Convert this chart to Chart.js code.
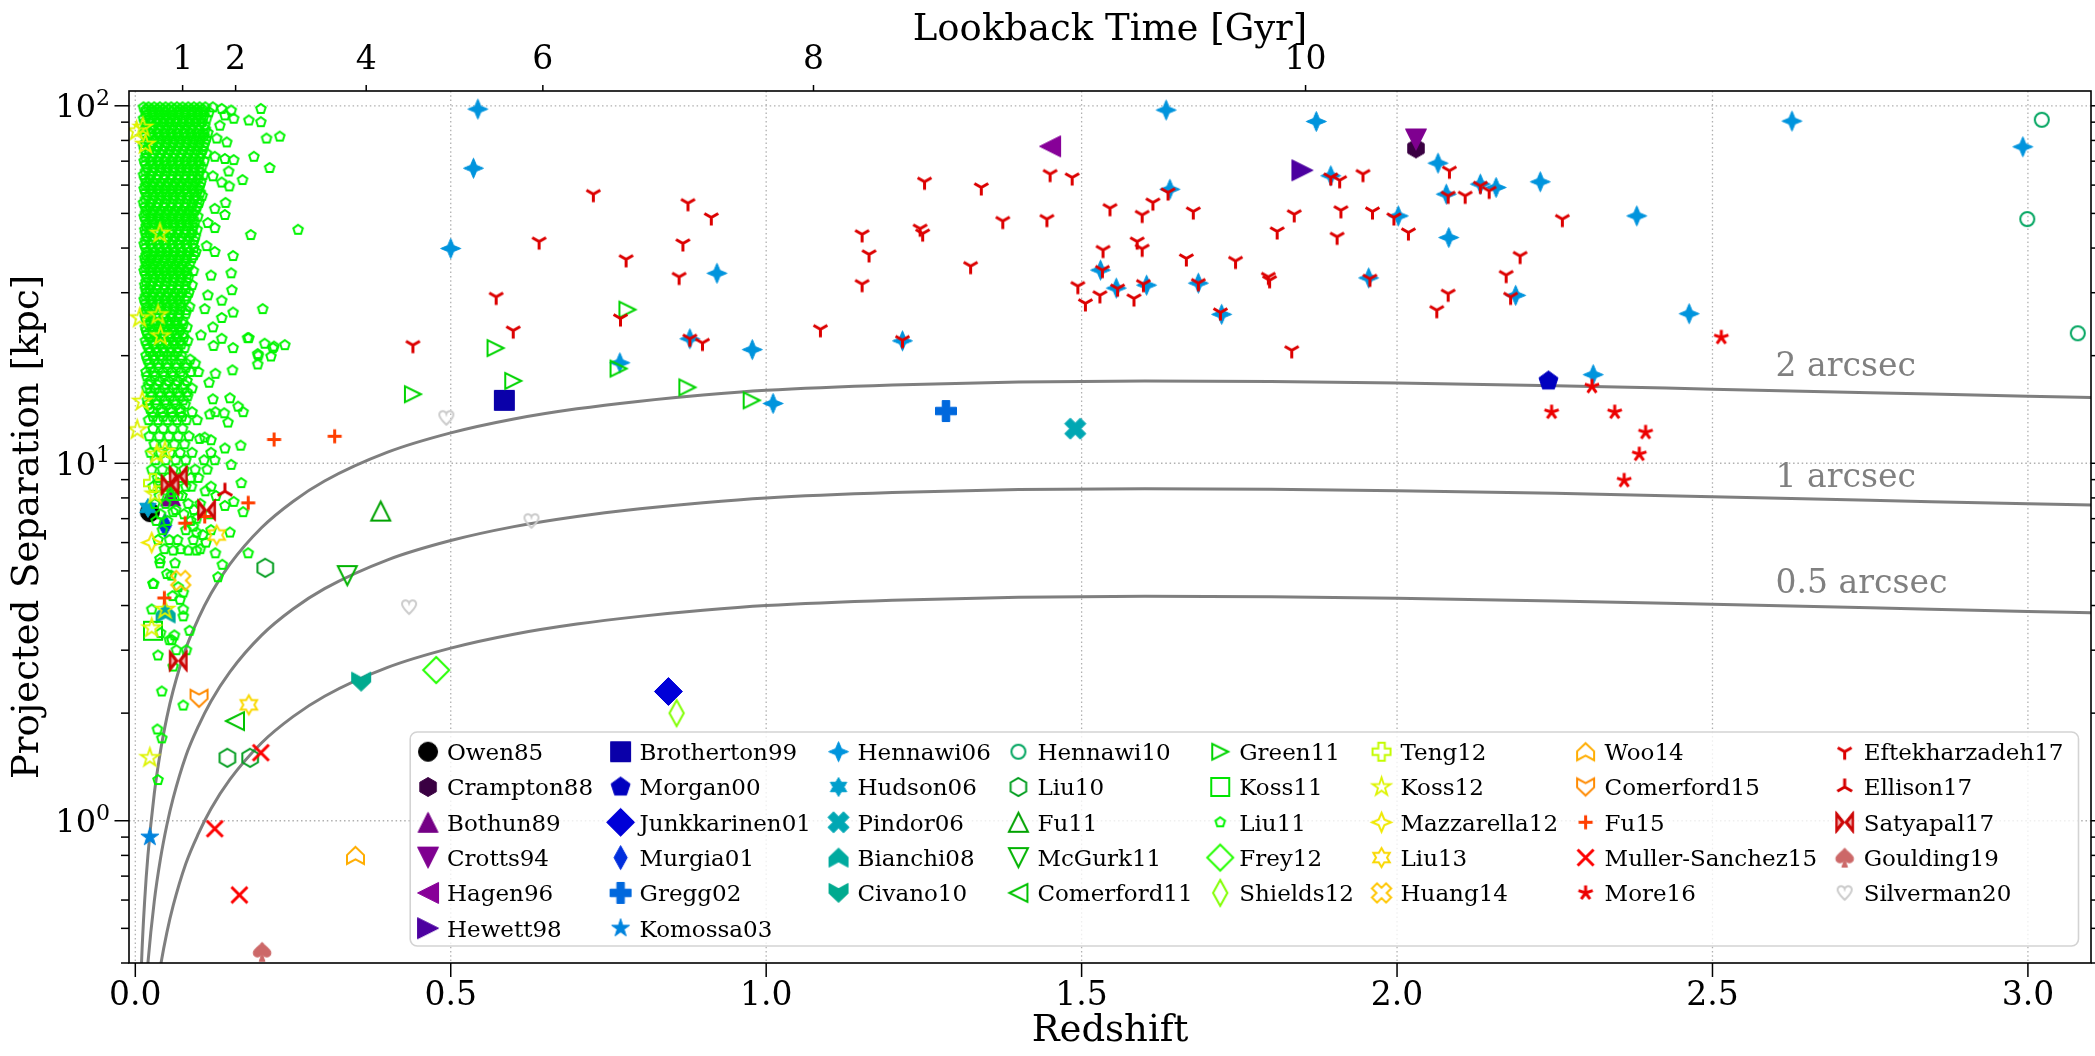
<!DOCTYPE html>
<html>
<head>
<meta charset="utf-8">
<title>Projected separation vs redshift</title>
<script src="https://cdn.jsdelivr.net/npm/chart.js@4.4.1/dist/chart.umd.min.js"></script>
<style>
html,body{margin:0;padding:0;background:#ffffff;overflow:hidden;}
#wrap{width:2095px;height:1056px;}
canvas{display:block;}
</style>
</head>
<body>
<div id="wrap"><canvas id="chart" width="2095" height="1056"></canvas></div>
<script>
// ===================== DATA (redshift, projected separation in kpc) =====================
const seriesNames = ['Owen85','Crampton88','Bothun89','Crotts94','Hagen96','Hewett98','Brotherton99','Morgan00','Junkkarinen01','Murgia01','Gregg02','Komossa03','Hennawi06','Hudson06','Pindor06','Bianchi08','Civano10','Hennawi10','Liu10','Fu11','McGurk11','Comerford11','Green11','Koss11','Liu11','Frey12','Shields12','Teng12','Koss12','Mazzarella12','Liu13','Huang14','Woo14','Comerford15','Fu15','Muller-Sanchez15','More16','Eftekharzadeh17','Ellison17','Satyapal17','Goulding19','Silverman20'];

const owen85 = [[0.023, 7.3]];
const crampton88 = [[2.03, 76]];
const bothun89 = [[0.056, 8.1]];
const crotts94 = [[2.03, 80.5]];
const hagen96 = [[1.45, 77]];
const hewett98 = [[1.85, 66]];
const brotherton99 = [[0.585, 15.0]];
const morgan00 = [[2.24, 17.0]];
const junkkarinen01 = [[0.845, 2.3]];
const murgia01 = [[0.047, 6.7]];
const gregg02 = [[1.285, 14.0]];
const komossa03 = [[0.023, 0.9]];
const hennawi06 = [[0.543,97.9],[0.536,66.9],[0.500,39.9],[0.768,19.1],[0.879,22.3],[0.922,34.0],[0.978,20.8],[1.011,14.7],[1.216,22.0],[1.634,97.3],[1.640,58.4],[1.530,34.7],[1.555,30.9],[1.603,31.5],[1.685,31.9],[1.722,26.1],[1.872,90.4],[1.895,63.7],[1.955,33.0],[2.002,49.2],[2.065,69.1],[2.078,56.6],[2.132,60.4],[2.157,59.1],[2.082,42.8],[2.188,29.5],[2.227,61.3],[2.380,49.2],[2.463,26.2],[2.311,17.7],[2.626,90.6],[2.992,76.8]];
const hudson06 = [[0.020, 7.5]];
const pindor06 = [[1.49, 12.5]];
const bianchi08 = [[0.048, 3.8]];
const civano10 = [[0.358, 2.45]];
const hennawi10 = [[3.022,91.4],[2.999,48.2],[3.079,23.1]];
const liu10 = [[0.206,5.1],[0.146,1.5],[0.182,1.5]];
const fu11 = [[0.389, 7.35]];
const mcgurk11 = [[0.336, 4.85]];
const comerford11 = [[0.158, 1.9]];
const green11 = [[0.780,26.9],[0.571,21.0],[0.599,17.0],[0.440,15.6],[0.766,18.4],[0.875,16.3],[0.977,15.0]];
const koss11 = [[0.028, 3.4]];
const liu11 = [
[0.013,99],[0.021,99],[0.030,99],[0.039,99],[0.048,99],[0.057,99],[0.066,99],[0.075,99],[0.084,99],[0.093,99],[0.102,99],[0.111,99],
[0.017,97.5],[0.026,97.5],[0.035,97.5],[0.044,97.5],[0.053,97.5],[0.062,97.5],[0.071,97.5],[0.080,97.5],[0.089,97.5],[0.098,97.5],[0.107,97.5],
[0.016,96],[0.027,96],[0.037,96],[0.046,96],[0.058,96],[0.069,96],[0.079,96],[0.090,96],[0.099,96],[0.108,96],[0.117,96],
[0.018,94],[0.029,94],[0.039,94],[0.049,94],[0.058,94],[0.068,94],[0.079,94],[0.089,94],[0.099,94],[0.109,94],
[0.013,92],[0.023,92],[0.034,92],[0.044,92],[0.053,92],[0.063,92],[0.074,92],[0.085,92],[0.094,92],[0.104,92],[0.113,92],
[0.015,90],[0.025,90],[0.035,90],[0.045,90],[0.055,90],[0.066,90],[0.076,90],[0.086,90],[0.096,90],[0.106,90],
[0.018,88],[0.029,88],[0.040,88],[0.050,88],[0.060,88],[0.071,88],[0.081,88],[0.091,88],[0.101,88],[0.110,88],
[0.016,86],[0.026,86],[0.037,86],[0.048,86],[0.058,86],[0.068,86],[0.079,86],[0.089,86],[0.100,86],[0.111,86],
[0.014,84],[0.024,84],[0.035,84],[0.046,84],[0.056,84],[0.066,84],[0.077,84],[0.087,84],[0.097,84],[0.107,84],[0.115,84],
[0.016,82.2],[0.027,82.2],[0.038,82.2],[0.048,82.2],[0.059,82.2],[0.069,82.2],[0.080,82.2],[0.090,82.2],[0.100,82.2],[0.109,82.2],
[0.019,80.5],[0.030,80.5],[0.041,80.5],[0.051,80.5],[0.062,80.5],[0.072,80.5],[0.083,80.5],[0.093,80.5],[0.103,80.5],[0.112,80.5],
[0.016,78.7],[0.027,78.7],[0.038,78.7],[0.049,78.7],[0.060,78.7],[0.070,78.7],[0.081,78.7],[0.091,78.7],[0.101,78.7],[0.110,78.7],
[0.013,77],[0.025,77],[0.036,77],[0.047,77],[0.057,77],[0.068,77],[0.078,77],[0.089,77],[0.099,77],[0.108,77],
[0.015,75.2],[0.022,75.2],[0.033,75.2],[0.044,75.2],[0.055,75.2],[0.065,75.2],[0.076,75.2],[0.087,75.2],[0.097,75.2],[0.107,75.2],
[0.017,73.5],[0.029,73.5],[0.040,73.5],[0.052,73.5],[0.062,73.5],[0.073,73.5],[0.084,73.5],[0.094,73.5],[0.104,73.5],[0.113,73.5],
[0.016,71.7],[0.027,71.7],[0.038,71.7],[0.049,71.7],[0.060,71.7],[0.071,71.7],[0.082,71.7],[0.092,71.7],[0.102,71.7],
[0.014,70],[0.024,70],[0.035,70],[0.046,70],[0.057,70],[0.068,70],[0.079,70],[0.089,70],[0.100,70],[0.109,70],
[0.016,68.5],[0.027,68.5],[0.038,68.5],[0.049,68.5],[0.059,68.5],[0.070,68.5],[0.081,68.5],[0.091,68.5],[0.102,68.5],
[0.019,67],[0.030,67],[0.041,67],[0.051,67],[0.062,67],[0.073,67],[0.083,67],[0.094,67],[0.105,67],
[0.016,65.5],[0.027,65.5],[0.039,65.5],[0.049,65.5],[0.060,65.5],[0.071,65.5],[0.081,65.5],[0.092,65.5],[0.102,65.5],
[0.013,64],[0.025,64],[0.036,64],[0.047,64],[0.057,64],[0.068,64],[0.078,64],[0.089,64],[0.099,64],[0.108,64],
[0.015,62.5],[0.023,62.5],[0.034,62.5],[0.046,62.5],[0.057,62.5],[0.068,62.5],[0.079,62.5],[0.090,62.5],[0.100,62.5],
[0.018,61],[0.029,61],[0.040,61],[0.052,61],[0.063,61],[0.073,61],[0.084,61],[0.095,61],[0.104,61],
[0.016,59.7],[0.027,59.7],[0.038,59.7],[0.049,59.7],[0.060,59.7],[0.071,59.7],[0.082,59.7],[0.092,59.7],[0.102,59.7],
[0.014,58.5],[0.024,58.5],[0.035,58.5],[0.046,58.5],[0.057,58.5],[0.068,58.5],[0.079,58.5],[0.090,58.5],[0.100,58.5],
[0.016,57.2],[0.027,57.2],[0.038,57.2],[0.048,57.2],[0.059,57.2],[0.070,57.2],[0.082,57.2],[0.093,57.2],[0.103,57.2],
[0.019,56],[0.030,56],[0.041,56],[0.051,56],[0.062,56],[0.073,56],[0.085,56],[0.096,56],[0.106,56],
[0.016,54.7],[0.027,54.7],[0.038,54.7],[0.049,54.7],[0.060,54.7],[0.071,54.7],[0.082,54.7],[0.093,54.7],[0.099,54.7],
[0.013,53.5],[0.025,53.5],[0.036,53.5],[0.047,53.5],[0.057,53.5],[0.068,53.5],[0.079,53.5],[0.090,53.5],[0.101,53.5],
[0.015,52.2],[0.023,52.2],[0.034,52.2],[0.046,52.2],[0.057,52.2],[0.068,52.2],[0.079,52.2],[0.090,52.2],[0.098,52.2],
[0.018,51],[0.029,51],[0.040,51],[0.052,51],[0.063,51],[0.074,51],[0.085,51],[0.095,51],
[0.016,50],[0.027,50],[0.038,50],[0.049,50],[0.060,50],[0.071,50],[0.082,50],[0.092,50],
[0.014,49],[0.024,49],[0.035,49],[0.046,49],[0.057,49],[0.068,49],[0.079,49],[0.089,49],[0.099,49],
[0.016,48],[0.027,48],[0.038,48],[0.049,48],[0.059,48],[0.070,48],[0.081,48],[0.092,48],
[0.019,47],[0.030,47],[0.041,47],[0.051,47],[0.062,47],[0.073,47],[0.084,47],[0.094,47],
[0.017,46],[0.027,46],[0.038,46],[0.049,46],[0.060,46],[0.071,46],[0.082,46],[0.092,46],
[0.015,45],[0.025,45],[0.036,45],[0.047,45],[0.057,45],[0.068,45],[0.079,45],[0.090,45],[0.098,45],
[0.016,44],[0.023,44],[0.034,44],[0.046,44],[0.057,44],[0.068,44],[0.079,44],[0.090,44],
[0.018,43],[0.029,43],[0.040,43],[0.052,43],[0.063,43],[0.074,43],[0.085,43],[0.095,43],
[0.016,42],[0.027,42],[0.038,42],[0.049,42],[0.060,42],[0.071,42],[0.083,42],[0.093,42],
[0.014,41],[0.024,41],[0.035,41],[0.046,41],[0.057,41],[0.068,41],[0.080,41],[0.091,41],
[0.016,40],[0.027,40],[0.038,40],[0.049,40],[0.060,40],[0.071,40],[0.082,40],[0.093,40],
[0.019,39],[0.030,39],[0.041,39],[0.051,39],[0.062,39],[0.073,39],[0.085,39],[0.096,39],
[0.017,38.2],[0.027,38.2],[0.038,38.2],[0.049,38.2],[0.060,38.2],[0.071,38.2],[0.082,38.2],[0.093,38.2],
[0.015,37.5],[0.025,37.5],[0.036,37.5],[0.047,37.5],[0.057,37.5],[0.068,37.5],[0.079,37.5],[0.090,37.5],
[0.016,36.7],[0.023,36.7],[0.034,36.7],[0.046,36.7],[0.057,36.7],[0.068,36.7],[0.080,36.7],
[0.018,36],[0.029,36],[0.040,36],[0.052,36],[0.063,36],[0.074,36],[0.086,36],
[0.016,35.2],[0.027,35.2],[0.038,35.2],[0.049,35.2],[0.060,35.2],[0.071,35.2],[0.083,35.2],
[0.014,34.5],[0.024,34.5],[0.035,34.5],[0.046,34.5],[0.057,34.5],[0.068,34.5],[0.080,34.5],[0.092,34.5],
[0.016,33.7],[0.027,33.7],[0.038,33.7],[0.049,33.7],[0.060,33.7],[0.071,33.7],[0.082,33.7],
[0.019,33],[0.030,33],[0.041,33],[0.051,33],[0.062,33],[0.073,33],[0.084,33],
[0.017,32.2],[0.027,32.2],[0.038,32.2],[0.049,32.2],[0.060,32.2],[0.071,32.2],[0.081,32.2],
[0.015,31.5],[0.025,31.5],[0.036,31.5],[0.047,31.5],[0.057,31.5],[0.068,31.5],[0.079,31.5],[0.090,31.5],
[0.016,30.7],[0.023,30.7],[0.034,30.7],[0.046,30.7],[0.057,30.7],[0.068,30.7],[0.080,30.7],
[0.018,30],[0.029,30],[0.040,30],[0.052,30],[0.063,30],[0.074,30],[0.085,30],
[0.016,29.3],[0.027,29.3],[0.038,29.3],[0.049,29.3],[0.060,29.3],[0.071,29.3],[0.082,29.3],
[0.014,28.7],[0.024,28.7],[0.035,28.7],[0.046,28.7],[0.057,28.7],[0.068,28.7],[0.078,28.7],
[0.016,28],[0.027,28],[0.038,28],[0.049,28],[0.060,28],[0.071,28],
[0.019,27.4],[0.030,27.4],[0.041,27.4],[0.051,27.4],[0.062,27.4],[0.073,27.4],[0.086,27.4],
[0.017,26.8],[0.027,26.8],[0.038,26.8],[0.049,26.8],[0.060,26.8],[0.071,26.8],[0.080,26.8],
[0.015,26.2],[0.025,26.2],[0.036,26.2],[0.047,26.2],[0.058,26.2],[0.069,26.2],[0.080,26.2],
[0.016,25.6],[0.023,25.6],[0.034,25.6],[0.046,25.6],[0.057,25.6],[0.068,25.6],
[0.018,25],[0.029,25],[0.040,25],[0.052,25],[0.063,25],[0.075,25],
[0.021,24.5],[0.032,24.5],[0.043,24.5],[0.054,24.5],[0.065,24.5],[0.076,24.5],
[0.016,24],[0.026,24],[0.037,24],[0.048,24],[0.059,24],[0.070,24],[0.082,24],
[0.017,23.5],[0.028,23.5],[0.039,23.5],[0.050,23.5],[0.060,23.5],[0.071,23.5],
[0.019,23],[0.031,23],[0.042,23],[0.053,23],[0.065,23],[0.076,23],
[0.022,22.5],[0.033,22.5],[0.044,22.5],[0.055,22.5],[0.066,22.5],[0.077,22.5],
[0.016,22],[0.027,22],[0.038,22],[0.049,22],[0.060,22],[0.071,22],[0.083,22],
[0.018,21.5],[0.029,21.5],[0.040,21.5],[0.051,21.5],[0.062,21.5],[0.073,21.5],
[0.021,21],[0.033,21],[0.044,21],[0.056,21],[0.067,21],[0.078,21],
[0.023,20.5],[0.034,20.5],[0.045,20.5],[0.056,20.5],[0.067,20.5],
[0.017,20],[0.028,20],[0.039,20],[0.051,20],[0.062,20],[0.073,20],
[0.019,19.5],[0.030,19.5],[0.043,19.5],[0.057,19.5],[0.072,19.5],[0.087,19.5],
[0.022,19],[0.036,19],[0.050,19],[0.065,19],[0.081,19],[0.095,19],
[0.024,18.5],[0.037,18.5],[0.051,18.5],[0.065,18.5],[0.080,18.5],
[0.017,18],[0.029,18],[0.044,18],[0.058,18],[0.072,18],[0.088,18],
[0.018,17.5],[0.031,17.5],[0.046,17.5],[0.060,17.5],[0.075,17.5],
[0.024,17],[0.038,17],[0.053,17],[0.067,17],[0.082,17],
[0.021,16.6],[0.035,16.6],[0.049,16.6],[0.064,16.6],[0.078,16.6],
[0.018,16.2],[0.031,16.2],[0.046,16.2],[0.060,16.2],[0.075,16.2],[0.090,16.2],
[0.024,15.8],[0.038,15.8],[0.053,15.8],[0.067,15.8],[0.082,15.8],
[0.026,15.4],[0.040,15.4],[0.055,15.4],[0.070,15.4],[0.083,15.4],
[0.019,15],[0.033,15],[0.047,15],[0.062,15],[0.076,15],
[0.020,14.6],[0.034,14.6],[0.049,14.6],[0.064,14.6],[0.079,14.6],
[0.023,14.2],[0.041,14.2],[0.056,14.2],[0.071,14.2],
[0.027,13.9],[0.043,13.9],[0.058,13.9],[0.072,13.9],[0.090,13.9],
[0.028,13.5],[0.044,13.5],[0.059,13.5],[0.074,13.5],
[0.021,13.2],[0.036,13.2],[0.051,13.2],[0.066,13.2],[0.081,13.2],
[0.028,12.5],[0.044,12.5],[0.059,12.5],[0.075,12.5],
[0.022,11.9],[0.038,11.9],[0.053,11.9],[0.068,11.9],[0.085,11.9],
[0.030,11.3],[0.046,11.3],[0.062,11.3],[0.078,11.3],
[0.024,10.7],[0.040,10.7],[0.055,10.7],[0.071,10.7],[0.090,10.7],
[0.032,10.2],[0.048,10.2],[0.064,10.2],[0.080,10.2],
[0.026,9.6],[0.043,9.6],[0.060,9.6],[0.077,9.6],[0.095,9.6],
[0.035,9.1],[0.052,9.1],[0.070,9.1],[0.088,9.1],
[0.028,8.6],[0.045,8.6],[0.063,8.6],[0.080,8.6],[0.120,8.6],
[0.038,8.1],[0.056,8.1],[0.074,8.1],[0.128,8.1],
[0.031,7.7],[0.048,7.7],[0.084,7.7],[0.103,7.7],
[0.040,7.2],[0.077,7.2],[0.118,7.2],
[0.033,6.9],[0.051,6.9],[0.088,6.9],
[0.043,6.5],[0.080,6.5],[0.120,6.5],
[0.036,6.1],[0.054,6.1],[0.092,6.1],
[0.046,5.75],[0.072,5.75],[0.103,5.75],
[0.123,99],[0.137,98],[0.152,97],[0.199,98],[0.180,91],[0.199,90],[0.156,92],[0.142,94],[0.134,88],[0.208,81],[0.229,82],[0.145,79],[0.129,81],[0.188,72],[0.156,70.5],[0.142,71],[0.126,72],[0.213,67],[0.148,65.5],[0.170,62],[0.149,59.5],[0.137,61],[0.123,63.5],[0.143,53.5],[0.142,49.5],[0.126,51.5],[0.183,43.5],[0.258,45],[0.126,45.5],[0.115,47],[0.155,38],[0.126,39],[0.113,40.5],[0.152,34],[0.120,33.5],[0.153,30.5],[0.137,28.5],[0.115,29.5],[0.202,27],[0.155,26.4],[0.137,25.5],[0.110,27],[0.123,24],[0.104,22.8],[0.180,22.4],[0.205,21.6],[0.220,21.2],[0.237,21.4],[0.155,21],[0.137,22.3],[0.124,21.3],[0.195,20],[0.215,19.9],[0.194,18.9],[0.154,18.2],[0.127,17.8],[0.117,16.8],[0.100,18],[0.123,15.1],[0.150,15.2],[0.163,14.4],[0.171,13.9],[0.141,13.8],[0.147,13],[0.098,13.2],[0.102,11.7],[0.110,11.8],[0.142,11],[0.167,11.2],[0.120,10.7],[0.126,10.2],[0.152,9.9],[0.118,13.7],[0.127,13.9],[0.114,9.6],[0.109,10.2],[0.120,11.6],[0.178,22.4],[0.218,21],[0.194,20.2],
[0.168,8.8],[0.111,8.35],[0.142,7.6],[0.156,7.8],[0.171,7.3],[0.100,9.1],[0.089,8.6],[0.068,8.1],[0.058,8.3],[0.036,8.8],[0.060,7.3],[0.064,7.4],[0.092,6.65],[0.097,6.4],[0.107,6.3],[0.112,6.0],[0.150,6.4],[0.067,6.1],[0.084,5.7],[0.097,5.7],[0.060,5.7],[0.039,5.4],[0.039,5.25],[0.063,5.25],[0.127,5.6],[0.179,5.6],[0.138,5.2],[0.131,4.8],[0.050,4.9],[0.057,4.85],[0.028,4.6],[0.068,4.5],[0.076,4.35],[0.059,4.25],[0.071,4.15],[0.026,3.9],[0.076,3.9],[0.076,3.73],[0.086,3.4],[0.040,3.35],[0.062,3.3],[0.058,3.2],[0.065,3.0],[0.081,3.0],[0.036,2.9],[0.060,2.7],[0.042,2.3],[0.076,2.1],[0.035,1.8],[0.042,1.7],[0.036,1.3],[0.054,3.2],[0.029,4.6],[0.093,7.4],[0.097,7.0]
];
const frey12 = [[0.477, 2.64]];
const shields12 = [[0.858, 2.0]];
const teng12 = [[0.028, 8.8]];
const koss12 = [[0.002,85],[0.012,87],[0.016,78],[0.039,44],[0.007,25.5],[0.036,26],[0.040,22.7],[0.011,14.9],[0.003,12.4],[0.034,10.6],[0.047,10.8],[0.031,8.2],[0.023,1.5],[0.026,3.46],[0.047,3.9]];
const mazzarella12 = [[0.026, 6.0]];
const liu13 = [[0.180,2.11],[0.129,6.3]];
const huang14 = [[0.072, 4.7]];
const woo14 = [[0.349, 0.8]];
const comerford15 = [[0.101, 2.2]];
const fu15 = [[0.220,11.65],[0.316,11.9],[0.179,7.75],[0.079,6.8],[0.110,7.1],[0.046,4.2]];
const mullerSanchez15 = [[0.199,1.55],[0.126,0.95],[0.165,0.62]];
const more16 = [[2.514,22.5],[2.245,13.9],[2.309,16.4],[2.345,13.9],[2.394,12.2],[2.384,10.6],[2.360,8.95]];
const eftekharzadeh17 = [[0.440,21.4],[0.572,29.2],[0.599,23.5],[0.640,41.7],[0.726,56.6],[0.876,53.4],[0.868,41.2],[0.778,37.2],[0.862,33.2],[0.769,25.4],[0.879,22.3],[0.913,48.7],[0.899,21.7],[1.086,23.7],[1.152,43.7],[1.163,38.4],[1.152,31.7],[1.251,61.3],[1.244,45.3],[1.248,43.9],[1.216,22.1],[1.324,35.6],[1.341,59.1],[1.375,47.6],[1.445,48.2],[1.450,64.4],[1.485,63.0],[1.494,31.3],[1.506,28.0],[1.529,29.5],[1.533,34.7],[1.534,39.5],[1.545,51.7],[1.557,30.8],[1.583,28.9],[1.588,41.7],[1.596,39.8],[1.596,49.5],[1.598,31.7],[1.613,53.6],[1.637,57.2],[1.666,37.4],[1.677,50.6],[1.685,31.9],[1.720,26.4],[1.744,36.8],[1.796,33.2],[1.798,32.5],[1.810,44.5],[1.833,20.7],[1.837,49.7],[1.895,63.0],[1.909,61.9],[1.946,64.4],[1.911,51.0],[1.905,43.0],[1.961,50.6],[1.957,32.8],[1.995,48.7],[2.083,65.8],[2.081,56.0],[2.108,56.0],[2.132,59.7],[2.146,57.8],[2.018,44.2],[2.262,48.2],[2.195,38.0],[2.173,33.6],[2.081,29.8],[2.063,26.8],[2.180,29.2]];
const ellison17 = [[0.142, 8.35]];
const satyapal17 = [[0.068,9.2],[0.055,8.7],[0.113,7.4],[0.068,2.8]];
const goulding19 = [[0.201, 0.43]];
const silverman20 = [[0.493,13.4],[0.628,6.9],[0.434,3.96]];

const seriesData = [owen85,crampton88,bothun89,crotts94,hagen96,hewett98,brotherton99,morgan00,junkkarinen01,murgia01,gregg02,komossa03,hennawi06,hudson06,pindor06,bianchi08,civano10,hennawi10,liu10,fu11,mcgurk11,comerford11,green11,koss11,liu11,frey12,shields12,teng12,koss12,mazzarella12,liu13,huang14,woo14,comerford15,fu15,mullerSanchez15,more16,eftekharzadeh17,ellison17,satyapal17,goulding19,silverman20];

// angular-size curves (kpc subtended by 2, 1 and 0.5 arcsec)
const curveZ   = [0.005,0.01,0.015,0.02,0.03,0.04,0.05,0.06,0.08,0.1,0.12,0.15,0.2,0.25,0.3,0.4,0.5,0.6,0.7,0.8,0.9,1.0,1.2,1.4,1.6,1.8,2.0,2.25,2.5,2.75,3.0,3.1];
const sep2arc  = [0.204,0.406,0.604,0.80,1.188,1.57,1.946,2.314,3.03,3.68,4.32,5.22,6.6,7.82,8.92,10.74,12.16,13.3,14.2,14.92,15.52,16.0,16.56,16.88,16.98,16.92,16.76,16.48,16.12,15.76,15.4,15.28];
const sep1arc  = [0.102,0.203,0.302,0.400,0.594,0.785,0.973,1.157,1.516,1.84,2.16,2.61,3.30,3.91,4.46,5.37,6.08,6.65,7.10,7.46,7.76,8.0,8.28,8.44,8.49,8.46,8.38,8.24,8.06,7.88,7.70,7.64];
const sep05arc = [0.051,0.1015,0.151,0.2,0.297,0.3925,0.4865,0.5785,0.758,0.92,1.08,1.305,1.65,1.955,2.23,2.685,3.04,3.325,3.55,3.73,3.88,4.0,4.14,4.22,4.245,4.23,4.19,4.12,4.03,3.94,3.85,3.82];
const curveLabels = ['2 arcsec','1 arcsec','0.5 arcsec'];
const curveLabelZ = [2.6, 2.6, 2.6];
const curveLabelKpc = [17.5, 8.6, 4.35];

// tick values / labels
const xTicks = [0,0.5,1,1.5,2,2.5,3];
const xTickLabels = ['0.0','0.5','1.0','1.5','2.0','2.5','3.0'];
const lookbackTickZ = [0.075,0.159,0.366,0.646,1.075,1.855];
const lookbackTickLabels = ['1','2','4','6','8','10'];
const yMajorTicks = [1,10,100];
const yTickBase = ['10','10','10'];
const yTickExponents = ['0','1','2'];
const yMinorTicks = [0.4,0.5,0.6,0.7,0.8,0.9,2,3,4,5,6,7,8,9,20,30,40,50,60,70,80,90];
const legendColumnCounts = [6,6,5,5,5,5,5,5];

// ===================== STYLES =====================
const markerShapes = ['circle','hexagon','triUp','triDown','triLeft','triRight','square','pentagon','diamond','thinDiamond','plusFilled','star','sparkle','hexagram','xFilled','arrowUp','arrowDown',
  'circle','hexagon','triUp','triDown','triLeft','triRight','square','pentagon','diamond','thinDiamond','plusFilled','star','sparkle','hexagram','xFilled','arrowUp','arrowDown',
  'plus','x','asterisk','triDownLines','triUpLines','bowtie','spade','heart'];
const markerSizes = [20,20,21,22,22,22,21,21,29,25,22,20,21,20,23,20,20, 16,20,21,21,20,18,20,12,28,28,20,21,21,21,22,19,19, 17,19,18,19,20,23,20,18];
const markerModes = ['fill','fill','fill','fill','fill','fill','fill','fill','fill','fill','fill','fill','fill','fill','fill','fill','fill',
  'stroke','stroke','stroke','stroke','stroke','stroke','stroke','stroke','stroke','stroke','stroke','stroke','stroke','stroke','stroke','stroke','stroke',
  'line','line','line','line','line','bowtie','fill','stroke'];
const markerLineWidths = [1,1,1,1,1,1,1,1,1,1,1,1,1,1,1,1,1, 2,2,2,2,2,2,2,2,2,2,2,1.8,2,2,2,2,2, 3,3,3,3,3,2,1,2];
const FONT = '"DejaVu Serif"';

const NIPY = {
  r: [[0,0],[0.05,0.4667],[0.10,0.5333],[0.15,0],[0.60,0],[0.65,0.7333],[0.70,0.9333],[0.75,1],[0.85,1],[0.90,0.8667],[0.95,0.8],[1,0.8]],
  g: [[0,0],[0.20,0],[0.25,0.4667],[0.30,0.6],[0.35,0.6667],[0.40,0.6667],[0.45,0.6],[0.50,0.7333],[0.55,0.8667],[0.60,1],[0.65,1],[0.70,0.9333],[0.75,0.8],[0.80,0.6],[0.85,0],[0.95,0],[1,0.8]],
  b: [[0,0],[0.05,0.5333],[0.10,0.6],[0.15,0.6667],[0.20,0.8667],[0.30,0.8667],[0.35,0.6667],[0.40,0.5333],[0.45,0],[0.95,0],[1,0.8]]
};
function nipyColor(t) {
  const ch = pts => {
    for (let k = 1; k < pts.length; k++) {
      if (t <= pts[k][0]) { const x0 = pts[k-1][0], y0 = pts[k-1][1], x1 = pts[k][0], y1 = pts[k][1]; return y0 + (y1 - y0) * (t - x0) / (x1 - x0); }
    }
    return pts[pts.length-1][1];
  };
  return 'rgb(' + Math.round(255*ch(NIPY.r)) + ',' + Math.round(255*ch(NIPY.g)) + ',' + Math.round(255*ch(NIPY.b)) + ')';
}
const seriesColors = seriesNames.map((n, i) => nipyColor(i / (seriesNames.length - 1)));

// ===================== MARKERS =====================
function pathShape(ctx, shape, r) {
  const poly = pts => { pts.forEach((p, i) => i ? ctx.lineTo(p[0], p[1]) : ctx.moveTo(p[0], p[1])); ctx.closePath(); };
  const regular = (n, rad) => { const p = []; for (let k = 0; k < n; k++) { const a = -Math.PI/2 + 2*Math.PI*k/n; p.push([rad*Math.cos(a), rad*Math.sin(a)]); } return p; };
  const starPts = (n, ro, ri) => { const p = []; for (let k = 0; k < 2*n; k++) { const a = -Math.PI/2 + Math.PI*k/n; const rr = (k % 2) ? ri : ro; p.push([rr*Math.cos(a), rr*Math.sin(a)]); } return p; };
  const plusPts = t => [[-t,-r],[t,-r],[t,-t],[r,-t],[r,t],[t,t],[t,r],[-t,r],[-t,t],[-r,t],[-r,-t],[-t,-t]];
  ctx.beginPath();
  switch (shape) {
    case 'circle': ctx.arc(0, 0, r, 0, 2*Math.PI); break;
    case 'square': ctx.rect(-r, -r, 2*r, 2*r); break;
    case 'triUp': poly([[0,-r],[r,r],[-r,r]]); break;
    case 'triDown': poly([[0,r],[r,-r],[-r,-r]]); break;
    case 'triLeft': poly([[-r,0],[r,-r],[r,r]]); break;
    case 'triRight': poly([[r,0],[-r,-r],[-r,r]]); break;
    case 'hexagon': poly(regular(6, r)); break;
    case 'pentagon': poly(regular(5, r)); break;
    case 'diamond': poly([[0,-r],[r,0],[0,r],[-r,0]]); break;
    case 'thinDiamond': poly([[0,-r],[0.55*r,0],[0,r],[-0.55*r,0]]); break;
    case 'plusFilled': poly(plusPts(r*0.36)); break;
    case 'xFilled': { const c = Math.SQRT1_2; poly(plusPts(r*0.36).map(p => [(p[0]-p[1])*c, (p[0]+p[1])*c])); break; }
    case 'star': poly(starPts(5, r, r*0.382)); break;
    case 'hexagram': poly(starPts(6, r, r*0.577)); break;
    case 'sparkle': poly(starPts(4, r, r*0.42)); break;
    case 'arrowUp': poly([[0,-r],[r,-0.05*r],[r,r],[0,0.45*r],[-r,r],[-r,-0.05*r]]); break;
    case 'arrowDown': poly([[0,r],[r,0.05*r],[r,-r],[0,-0.45*r],[-r,-r],[-r,0.05*r]]); break;
    case 'plus': ctx.moveTo(-r,0); ctx.lineTo(r,0); ctx.moveTo(0,-r); ctx.lineTo(0,r); break;
    case 'x': ctx.moveTo(-r,-r); ctx.lineTo(r,r); ctx.moveTo(r,-r); ctx.lineTo(-r,r); break;
    case 'asterisk': for (let k = 0; k < 5; k++) { const a = -Math.PI/2 + 2*Math.PI*k/5; ctx.moveTo(0,0); ctx.lineTo(r*Math.cos(a), r*Math.sin(a)); } break;
    case 'triDownLines': ctx.moveTo(0,0); ctx.lineTo(0,r); ctx.moveTo(0,0); ctx.lineTo(-0.866*r,-0.5*r); ctx.moveTo(0,0); ctx.lineTo(0.866*r,-0.5*r); break;
    case 'triUpLines': ctx.moveTo(0,0); ctx.lineTo(0,-r); ctx.moveTo(0,0); ctx.lineTo(-0.866*r,0.5*r); ctx.moveTo(0,0); ctx.lineTo(0.866*r,0.5*r); break;
    case 'bowtie': { const rx = 0.8*r; poly([[-rx,-r],[0,0],[-rx,r]]); ctx.moveTo(rx,-r); ctx.lineTo(0,0); ctx.lineTo(rx,r); ctx.closePath(); break; }
    case 'heart':
      ctx.moveTo(0, 0.85*r);
      ctx.bezierCurveTo(-0.5*r, 0.35*r, -0.95*r, 0, -0.88*r, -0.48*r);
      ctx.bezierCurveTo(-0.78*r, -0.95*r, -0.15*r, -1.0*r, 0, -0.5*r);
      ctx.bezierCurveTo(0.15*r, -1.0*r, 0.78*r, -0.95*r, 0.88*r, -0.48*r);
      ctx.bezierCurveTo(0.95*r, 0, 0.5*r, 0.35*r, 0, 0.85*r);
      ctx.closePath(); break;
    case 'spade':
      ctx.moveTo(0, -r);
      ctx.bezierCurveTo(0.35*r, -0.55*r, 1.0*r, -0.25*r, 0.92*r, 0.2*r);
      ctx.bezierCurveTo(0.85*r, 0.6*r, 0.35*r, 0.65*r, 0.06*r, 0.35*r);
      ctx.lineTo(0.3*r, r); ctx.lineTo(-0.3*r, r); ctx.lineTo(-0.06*r, 0.35*r);
      ctx.bezierCurveTo(-0.35*r, 0.65*r, -0.85*r, 0.6*r, -0.92*r, 0.2*r);
      ctx.bezierCurveTo(-1.0*r, -0.25*r, -0.35*r, -0.55*r, 0, -r);
      ctx.closePath(); break;
  }
}
function makeMarker(shape, color, size, mode, lw) {
  const pad = Math.ceil(lw) + 2;
  const dim = Math.ceil(size + 2*pad);
  const cv = document.createElement('canvas');
  cv.width = dim; cv.height = dim;
  const ctx = cv.getContext('2d');
  ctx.translate(dim/2, dim/2);
  const r = size/2;
  ctx.lineJoin = 'miter'; ctx.lineCap = 'butt';
  if (mode === 'fill') {
    pathShape(ctx, shape, r - 0.5);
    ctx.fillStyle = color; ctx.fill();
    ctx.strokeStyle = color; ctx.lineWidth = lw; ctx.stroke();
  } else if (mode === 'bowtie') {
    pathShape(ctx, shape, r - 0.5);
    ctx.fillStyle = color; ctx.fill();
    ctx.strokeStyle = color; ctx.lineWidth = 1; ctx.stroke();
    const rx = 0.8*(r-0.5), ry = r - 0.5, s = 0.38;
    [-1, 1].forEach(sg => {
      const cx = sg*rx*2/3;
      const pts = [[sg*rx,-ry],[0,0],[sg*rx,ry]].map(p => [cx + s*(p[0]-cx), s*p[1]]);
      ctx.beginPath(); ctx.moveTo(pts[0][0],pts[0][1]); ctx.lineTo(pts[1][0],pts[1][1]); ctx.lineTo(pts[2][0],pts[2][1]); ctx.closePath();
      ctx.fillStyle = 'rgba(255,255,255,0.7)'; ctx.fill();
    });
  } else {
    pathShape(ctx, shape, r - lw/2);
    ctx.strokeStyle = color; ctx.lineWidth = lw; ctx.stroke();
  }
  return cv;
}
const markerCanvases = seriesNames.map((n, i) => makeMarker(markerShapes[i], seriesColors[i], markerSizes[i], markerModes[i], markerLineWidths[i]));

// ===================== DATASETS =====================
const datasets = [];
[sep2arc, sep1arc, sep05arc].forEach((arr, k) => {
  datasets.push({
    type: 'line', label: curveLabels[k],
    data: curveZ.map((z, i) => ({x: z, y: arr[i]})),
    borderColor: '#7f7f7f', borderWidth: 3, pointRadius: 0, fill: false,
    cubicInterpolationMode: 'monotone', order: 1000, clip: 0
  });
});
seriesNames.forEach((name, i) => {
  datasets.push({
    type: 'scatter', label: name,
    data: seriesData[i].map(p => ({x: p[0], y: p[1]})),
    pointStyle: markerCanvases[i],
    pointRadius: markerSizes[i]/2, pointHoverRadius: markerSizes[i]/2,
    order: 100 - i
  });
});

// ===================== DECORATION PLUGIN =====================
function seg(ctx, x0, y0, x1, y1) { ctx.beginPath(); ctx.moveTo(x0, y0); ctx.lineTo(x1, y1); ctx.stroke(); }
function roundedRect(ctx, x, y, w, h, r) {
  ctx.beginPath();
  ctx.moveTo(x + r, y); ctx.lineTo(x + w - r, y); ctx.arcTo(x + w, y, x + w, y + r, r);
  ctx.lineTo(x + w, y + h - r); ctx.arcTo(x + w, y + h, x + w - r, y + h, r);
  ctx.lineTo(x + r, y + h); ctx.arcTo(x, y + h, x, y + h - r, r);
  ctx.lineTo(x, y + r); ctx.arcTo(x, y, x + r, y, r); ctx.closePath();
}
function drawLegend(ctx, a) {
  ctx.save();
  ctx.font = '23px ' + FONT;
  const cols = []; let idx = 0;
  legendColumnCounts.forEach(n => { const c = []; for (let j = 0; j < n; j++) c.push(idx + j); cols.push(c); idx += n; });
  const widths = cols.map(c => Math.max(...c.map(i => ctx.measureText(seriesNames[i]).width)));
  const padL = 17.8, hT = 19, gap = 27.6, padR = 15, rowH = 35.3, padT = 19.7;
  let total = padL + padR;
  widths.forEach((w, k) => { total += hT + w + (k < widths.length - 1 ? gap : 0); });
  const right = a.right - 12.5, bottom = a.bottom - 17, top = bottom - 214, left = right - total;
  roundedRect(ctx, left, top, right - left, bottom - top, 7);
  ctx.fillStyle = 'rgba(255,255,255,0.8)'; ctx.fill();
  ctx.strokeStyle = '#d3d3d3'; ctx.lineWidth = 1.6; ctx.stroke();
  let mx = left + padL;
  ctx.textAlign = 'left'; ctx.textBaseline = 'alphabetic';
  cols.forEach((c, k) => {
    c.forEach((i, j) => {
      const cy = top + padT + rowH*j;
      const m = markerCanvases[i];
      ctx.drawImage(m, mx - m.width/2, cy - m.height/2);
      ctx.fillStyle = '#000';
      ctx.fillText(seriesNames[i], mx + hT, cy + 8.4);
    });
    mx += hT + widths[k] + gap;
  });
  ctx.restore();
}
const decor = {
  id: 'decor',
  beforeDatasetsDraw(chart) {
    const ctx = chart.ctx, a = chart.chartArea, sx = chart.scales.x, sy = chart.scales.y;
    ctx.save();
    ctx.strokeStyle = '#b0b0b0'; ctx.lineWidth = 1.3; ctx.setLineDash([1.5, 2.8]);
    xTicks.forEach(v => { const px = sx.getPixelForValue(v); seg(ctx, px, a.top, px, a.bottom); });
    yMajorTicks.forEach(v => { const py = sy.getPixelForValue(v); seg(ctx, a.left, py, a.right, py); });
    ctx.restore();
  },
  afterDatasetsDraw(chart) {
    const ctx = chart.ctx, a = chart.chartArea, sx = chart.scales.x, sy = chart.scales.y;
    ctx.save();
    // curve labels
    ctx.font = '33px ' + FONT; ctx.fillStyle = '#808080'; ctx.textAlign = 'left'; ctx.textBaseline = 'alphabetic';
    curveLabels.forEach((t, k) => ctx.fillText(t, sx.getPixelForValue(curveLabelZ[k]), sy.getPixelForValue(curveLabelKpc[k])));
    // spines
    ctx.strokeStyle = '#000'; ctx.lineWidth = 1.6; ctx.setLineDash([]);
    ctx.strokeRect(a.left, a.top, a.right - a.left, a.bottom - a.top);
    // ticks
    ctx.lineWidth = 1.5;
    xTicks.forEach(v => { const px = sx.getPixelForValue(v); seg(ctx, px, a.bottom, px, a.bottom + 14); });
    lookbackTickZ.forEach(v => { const px = sx.getPixelForValue(v); seg(ctx, px, a.top, px, a.top - 6); });
    yMajorTicks.forEach(v => { const py = sy.getPixelForValue(v); seg(ctx, a.left - 14.5, py, a.left, py); seg(ctx, a.right, py, a.right + 14.5, py); });
    yMinorTicks.forEach(v => { const py = sy.getPixelForValue(v); seg(ctx, a.left - 8, py, a.left, py); seg(ctx, a.right, py, a.right + 8, py); });
    // y tick labels 10^n
    ctx.fillStyle = '#000'; ctx.textAlign = 'left'; ctx.textBaseline = 'alphabetic';
    yMajorTicks.forEach((v, i) => {
      const py = sy.getPixelForValue(v);
      ctx.font = '32px ' + FONT; const w1 = ctx.measureText(yTickBase[i]).width;
      ctx.font = '22px ' + FONT; const w2 = ctx.measureText(yTickExponents[i]).width;
      const xr = a.left - 19;
      ctx.font = '32px ' + FONT; ctx.fillText(yTickBase[i], xr - w2 - w1, py + 11.5);
      ctx.font = '22px ' + FONT; ctx.fillText(yTickExponents[i], xr - w2, py - 1);
    });
    // axis titles
    ctx.font = '37px ' + FONT; ctx.textAlign = 'center';
    const cx = (a.left + a.right) / 2;
    ctx.fillText('Redshift', cx, 1041);
    ctx.fillText('Lookback Time [Gyr]', cx, 40);
    ctx.save();
    ctx.translate(38, (a.top + a.bottom) / 2);
    ctx.rotate(-Math.PI / 2);
    ctx.fillText('Projected Separation [kpc]', 0, 0);
    ctx.restore();
    ctx.restore();
    drawLegend(ctx, a);
  }
};

// ===================== CHART =====================
Chart.defaults.font.family = FONT;
new Chart(document.getElementById('chart'), {
  type: 'scatter',
  data: { datasets: datasets },
  options: {
    responsive: false, animation: false, events: [],
    layout: { autoPadding: false, padding: { left: 0, right: 4, top: 0, bottom: 0 } },
    plugins: { legend: { display: false }, tooltip: { enabled: false } },
    scales: {
      x: {
        type: 'linear', position: 'bottom', min: -0.01, max: 3.1,
        afterBuildTicks: s => { s.ticks = xTicks.map(v => ({value: v})); },
        afterFit: s => { s.height = 93; },
        ticks: { callback: (v, i) => xTickLabels[i], font: { size: 33, family: FONT }, color: '#000', padding: 14, maxRotation: 0, autoSkip: false },
        grid: { display: false, drawTicks: false }, border: { display: false }
      },
      x2: {
        type: 'linear', position: 'top', min: -0.01, max: 3.1,
        afterBuildTicks: s => { s.ticks = lookbackTickZ.map(v => ({value: v})); },
        afterFit: s => { s.height = 91; },
        ticks: { callback: (v, i) => lookbackTickLabels[i], font: { size: 33, family: FONT }, color: '#000', padding: 11, maxRotation: 0, autoSkip: false },
        grid: { display: false, drawTicks: false }, border: { display: false }
      },
      y: {
        type: 'logarithmic', position: 'left', min: 0.4, max: 110,
        afterFit: s => { s.width = 129; },
        ticks: { display: false },
        grid: { display: false, drawTicks: false }, border: { display: false }
      }
    }
  },
  plugins: [decor]
});
</script>
</body>
</html>
